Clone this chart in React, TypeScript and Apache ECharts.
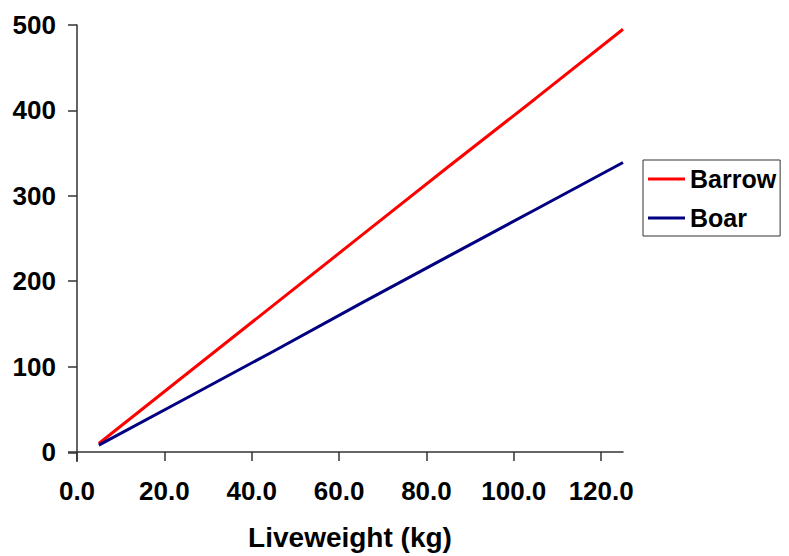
import React, { useEffect, useRef } from "react";
import * as echarts from "echarts";

const liveweight = [5, 25, 45, 65, 85, 105, 125];
const barrow = [10, 91, 172, 253, 334, 414, 495];
const boar = [8, 63, 118, 174, 229, 284, 339];
const xTicks = [0, 20, 40, 60, 80, 100, 120];
const seriesNames = ["Barrow", "Boar"];

const FONT = "'Liberation Sans', Arial, sans-serif";

export default function App() {
  const ref = useRef<HTMLDivElement>(null);
  useEffect(() => {
    if (!ref.current) return;
    const chart = echarts.init(ref.current, undefined, { renderer: "svg" });
    const axisColor = "#333333";
    chart.setOption({
      animation: false,
      backgroundColor: "#ffffff",
      textStyle: { fontFamily: FONT },
      grid: { left: 77, top: 25, right: 166, bottom: 103, containLabel: false },
      legend: {
        data: seriesNames,
        orient: "vertical",
        left: 643,
        top: 160,
        padding: [5, 4, 4, 5],
        itemGap: 11,
        itemWidth: 37,
        itemHeight: 3,
        icon: "rect",
        borderColor: "#333333",
        borderWidth: 1,
        textStyle: {
          fontFamily: FONT,
          fontWeight: "bold",
          fontSize: 25,
          lineHeight: 28,
          color: "#000000",
        },
      },
      xAxis: {
        type: "value",
        min: 0,
        max: 125,
        interval: 20,
        name: "Liveweight (kg)",
        nameLocation: "middle",
        nameGap: 71,
        nameTextStyle: { fontFamily: FONT, fontWeight: "bold", fontSize: 28, color: "#000" },
        axisLine: { show: true, onZero: false, lineStyle: { color: axisColor, width: 1.5 } },
        axisTick: { show: true, length: 9, customValues: xTicks, lineStyle: { color: axisColor, width: 1.5 } },
        axisLabel: {
          customValues: xTicks,
          margin: 26,
          fontFamily: FONT,
          fontWeight: "bold",
          fontSize: 26,
          color: "#000",
          formatter: (v: number) => v.toFixed(1),
        },
        splitLine: { show: false },
      },
      yAxis: {
        type: "value",
        min: 0,
        max: 500,
        interval: 100,
        axisLine: { show: true, lineStyle: { color: axisColor, width: 1.5 } },
        axisTick: { show: true, length: 9, lineStyle: { color: axisColor, width: 1.5 } },
        axisLabel: {
          margin: 21,
          fontFamily: FONT,
          fontWeight: "bold",
          fontSize: 26,
          color: "#000",
        },
        splitLine: { show: false },
      },
      graphic: [
        { type: "line", shape: { x1: 68, y1: 453, x2: 77, y2: 453 }, style: { stroke: axisColor, lineWidth: 1.5 } },
        { type: "line", shape: { x1: 77, y1: 453, x2: 77, y2: 462 }, style: { stroke: axisColor, lineWidth: 1.5 } },
      ],
      series: [
        {
          name: seriesNames[0],
          type: "line",
          data: liveweight.map((x, i) => [x, barrow[i]]),
          showSymbol: false,
          symbol: "none",
          lineStyle: { color: "#ff0000", width: 3 },
          itemStyle: { color: "#ff0000" },
        },
        {
          name: seriesNames[1],
          type: "line",
          data: liveweight.map((x, i) => [x, boar[i]]),
          showSymbol: false,
          symbol: "none",
          lineStyle: { color: "#000080", width: 3 },
          itemStyle: { color: "#000080" },
        },
      ],
    });
    return () => chart.dispose();
  }, []);
  return <div ref={ref} style={{ width: 789, height: 556, marginTop: -8, marginLeft: -8 }} />;
}
